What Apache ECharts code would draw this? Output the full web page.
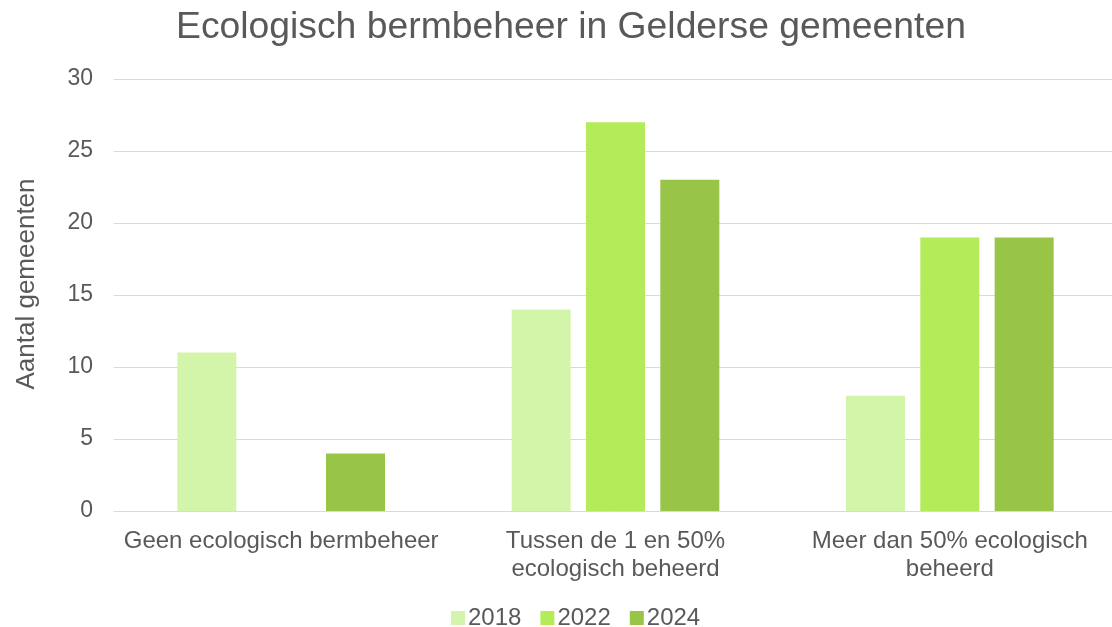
<!DOCTYPE html>
<html>
<head>
<meta charset="utf-8">
<script src="https://cdn.jsdelivr.net/npm/echarts@6/dist/echarts.min.js"></script>
<style>
  html, body { margin: 0; padding: 0; background: #fff; overflow: hidden; }
  #main { width: 1120px; height: 627px; }
</style>
</head>
<body>
<div id="main"></div>
<script>
var categories = ['Geen ecologisch bermbeheer', 'Tussen de 1 en 50%\necologisch beheerd', 'Meer dan 50% ecologisch\nbeheerd'];
var years = ['2018', '2022', '2024'];
var values2018 = [11, 14, 8];
var values2022 = [0, 27, 19];
var values2024 = [4, 23, 19];
var colors = ['#d3f5aa', '#b3eb59', '#98c448'];

var chart = echarts.init(document.getElementById('main'));
var textColor = '#595959';
var font = 'Liberation Sans, Arial, sans-serif';

var option = {
    animation: false,
    color: colors,
    textStyle: { fontFamily: font },
    title: {
        text: 'Ecologisch bermbeheer in Gelderse gemeenten',
        left: 171,
        top: 4,
        textStyle: { color: textColor, fontSize: 37.3, fontWeight: 'normal', fontFamily: font }
    },
    legend: {
        data: years,
        bottom: -8,
        left: 446,
        itemWidth: 14,
        itemHeight: 14,
        itemGap: 19,
        icon: 'rect',
        textStyle: { color: textColor, fontSize: 24, fontFamily: font, padding: [0, 0, 0, -2] }
    },
    grid: {
        left: 114,
        right: 3,
        top: 79,
        bottom: 116
    },
    xAxis: {
        type: 'category',
        data: categories,
        axisLine: { lineStyle: { color: '#d9d9d9', width: 1 } },
        axisTick: { show: false },
        axisLabel: { color: textColor, fontSize: 24, lineHeight: 28, margin: 16, interval: 0, fontFamily: font }
    },
    yAxis: {
        type: 'value',
        min: 0,
        max: 30,
        interval: 5,
        name: 'Aantal gemeenten',
        nameLocation: 'middle',
        nameGap: 74,
        nameTextStyle: { color: textColor, fontSize: 26, fontFamily: font, padding: [0, 0, 0, 22] },
        axisLine: { show: false },
        axisTick: { show: false },
        axisLabel: { color: textColor, fontSize: 23, margin: 21, fontFamily: font },
        splitLine: { lineStyle: { color: '#d9d9d9', width: 1 } }
    },
    series: [
        { name: '2018', type: 'bar', data: values2018, barWidth: 59, barGap: '26%' },
        { name: '2022', type: 'bar', data: values2022, barWidth: 59, barGap: '26%' },
        { name: '2024', type: 'bar', data: values2024, barWidth: 59, barGap: '26%' }
    ]
};

chart.setOption(option);
</script>
</body>
</html>
